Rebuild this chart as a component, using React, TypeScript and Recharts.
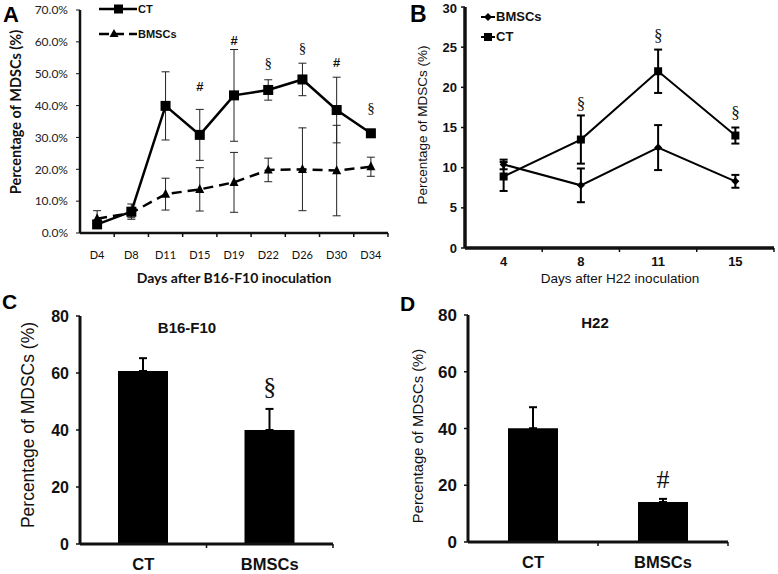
import React from 'react';
import { ComposedChart, Line, Bar, XAxis, YAxis, ErrorBar, Legend } from 'recharts';

const LATO = 'Lato, "Open Sans", sans-serif';
const ARIAL = '"Liberation Sans", Arial, sans-serif';
const SERIF = '"Liberation Serif", serif';
const INK = '#111';

// A: MDSCs after B16-F10 inoculation
const daysA = ['D4', 'D8', 'D11', 'D15', 'D19', 'D22', 'D26', 'D30', 'D34'];
const ctA = [2.7, 6.7, 39.9, 30.8, 43.2, 44.9, 48.2, 38.6, 31.3];
const ctErrA = [1.0, 2.4, 10.7, 8.0, 14.4, 3.2, 5.1, 10.3, 0.8];
const bmscA = [4.5, 6.3, 12.2, 13.7, 15.9, 19.8, 20.0, 19.6, 20.8];
const bmscErrA = [2.5, 1.5, 5.0, 6.8, 9.4, 3.7, 13.0, 14.2, 3.0];
const sigA = ['', '', '', '#', '#', '§', '§', '#', '§'];
const sigPosA = [null, null, null, 46.0, 60.4, 53.3, 58.0, 53.5, 39.1];
const ticksA = [0, 10, 20, 30, 40, 50, 60, 70];

// B: MDSCs after H22 inoculation
const daysB = ['4', '8', '11', '15'];
const bmscB = [10.4, 7.8, 12.5, 8.3];
const bmscErrB = [0.6, 2.1, 2.8, 0.8];
const ctB = [8.9, 13.5, 22.0, 14.0];
const ctErrB = [1.8, 3.0, 2.7, 1.0];
const sigB = ['', '§', '§', '§'];
const sigPosB = [null, 18.0, 26.5, 16.9];
const ticksB = [0, 5, 10, 15, 20, 25, 30];

// C / D: group comparison
const groups = ['CT', 'BMSCs'];
const b16 = [60.7, 40.0];
const b16Err = [4.5, 7.4];
const sigC = ['', '§'];
const sigPosC = [null, 55.1];
const h22 = [40.1, 14.1];
const h22Err = [7.4, 1.1];
const sigD = ['', '#'];
const sigPosD = [null, 21.9];
const ticksCD = [0, 20, 40, 60, 80];

const dataA = daysA.map((d, i) => ({
  day: d, ct: ctA[i], ctErr: ctErrA[i], bmsc: bmscA[i], bmscErr: bmscErrA[i], sig: sigA[i], sigPos: sigPosA[i],
}));
const dataB = daysB.map((d, i) => ({
  day: d, ct: ctB[i], ctErr: ctErrB[i], bmsc: bmscB[i], bmscErr: bmscErrB[i], sig: sigB[i], sigPos: sigPosB[i],
}));
const dataC = groups.map((g, i) => ({ group: g, v: b16[i], err: [0, b16Err[i]], sig: sigC[i], sigPos: sigPosC[i] }));
const dataD = groups.map((g, i) => ({ group: g, v: h22[i], err: [0, h22Err[i]], sig: sigD[i], sigPos: sigPosD[i] }));

// markers
const squareDot = (s: number) => (p: any) =>
  p.cy == null ? <g key={p.key} /> : <rect key={p.key} x={p.cx - s / 2} y={p.cy - s / 2} width={s} height={s} fill="#000" />;
const triDot = (s: number) => (p: any) =>
  p.cy == null ? <g key={p.key} /> : (
    <polygon key={p.key} fill="#000"
      points={`${p.cx},${p.cy - s * 0.6} ${p.cx - s / 2},${p.cy + s * 0.4} ${p.cx + s / 2},${p.cy + s * 0.4}`} />
  );
const diamondDot = (s: number) => (p: any) =>
  p.cy == null ? <g key={p.key} /> : (
    <polygon key={p.key} fill="#000"
      points={`${p.cx},${p.cy - s / 2} ${p.cx + s / 2},${p.cy} ${p.cx},${p.cy + s / 2} ${p.cx - s / 2},${p.cy}`} />
  );

// significance marks; fonts can differ per symbol
type SymFont = { size: number; family: string; weight?: string | number };
const sigDot = (fonts: Record<string, SymFont>) => (p: any) => {
  const s = p.payload?.sig;
  if (p.cy == null || !s) return <g key={p.key} />;
  const f = fonts[s];
  return (
    <text key={p.key} x={p.cx} y={p.cy} textAnchor="middle" dominantBaseline="central"
      fontSize={f.size} fontFamily={f.family} fontWeight={f.weight ?? 'normal'} fill={INK}>{s}</text>
  );
};

// category tick: label at band centre, small mark at band boundary
function bandTick(half: number, dy: number, font: any) {
  return (props: any) => {
    const { x, y, payload } = props;
    return (
      <g>
        <line x1={x + half} x2={x + half} y1={y} y2={y + 4} stroke={INK} strokeWidth={1.5} />
        <text x={x} y={y + dy} textAnchor="middle" dominantBaseline="central" fill={INK} {...font}>{payload.value}</text>
      </g>
    );
  };
}

function vTitle(x: number, y: number, size: number, weight: string | number, family: string, title?: any) {
  return () => (
    <g>
      <text x={x} y={y} transform={`rotate(-90 ${x} ${y})`} textAnchor="middle" dominantBaseline="central"
        fontSize={size} fontWeight={weight} fontFamily={family} fill={INK}>Percentage of MDSCs (%)</text>
      {title}
    </g>
  );
}

function hTitle(text: string, x: number, y: number, size: number, weight: string | number, family: string) {
  return () => (
    <text x={x} y={y} textAnchor="middle" dominantBaseline="central" fontSize={size} fontWeight={weight}
      fontFamily={family} fill={INK}>{text}</text>
  );
}

const iconsA: Record<string, any> = {
  CT: (
    <svg width={38} height={12}>
      <line x1={0} x2={38} y1={6} y2={6} stroke="#000" strokeWidth={2.5} />
      <rect x={15} y={1.5} width={9} height={9} fill="#000" />
    </svg>
  ),
  BMSCs: (
    <svg width={38} height={12}>
      <line x1={0} x2={38} y1={6} y2={6} stroke="#000" strokeWidth={2.5} strokeDasharray="10 5" />
      <polygon points="15,1 10.5,9 19.5,9" fill="#000" />
    </svg>
  ),
};
const iconsB: Record<string, any> = {
  BMSCs: (
    <svg width={14} height={10}>
      <line x1={0} x2={14} y1={5} y2={5} stroke="#000" strokeWidth={2} />
      <polygon points="7,1 11,5 7,9 3,5" fill="#000" />
    </svg>
  ),
  CT: (
    <svg width={14} height={10}>
      <line x1={0} x2={14} y1={5} y2={5} stroke="#000" strokeWidth={2} />
      <rect x={3} y={1} width={8} height={8} fill="#000" />
    </svg>
  ),
};

function legendContent(icons: Record<string, any>, order: string[], gap: number, font: any) {
  return (props: any) => {
    const names = (props.payload || []).filter((p: any) => p.type !== 'none').map((p: any) => p.value);
    const items = order.filter((n) => names.includes(n));
    return (
      <div>
        {items.map((n, i) => (
          <div key={n} style={{ display: 'flex', alignItems: 'center', height: 14, marginTop: i ? gap : 0 }}>
            {icons[n]}
            <span style={{ marginLeft: 1, color: INK, lineHeight: '14px', ...font }}>{n}</span>
          </div>
        ))}
      </div>
    );
  };
}

function PanelA() {
  return (
    <ComposedChart width={390} height={290} data={dataA} margin={{ top: 10, right: 2, left: 0, bottom: 0 }}>
      <XAxis dataKey="day" scale="band" height={57} tickSize={0} tickMargin={0} interval={0}
        axisLine={{ stroke: INK, strokeWidth: 2.5 }} tickLine={false}
        tick={bandTick(17.1, 21, { fontSize: 11, fontFamily: LATO })}
        label={hTitle('Days after B16-F10 inoculation', 234, 277, 14, 700, LATO)} />
      <YAxis width={80} domain={[0, 70]} ticks={ticksA} tickFormatter={(v: number) => `${v.toFixed(1)}%`}
        axisLine={{ stroke: INK, strokeWidth: 2.5 }} tickLine={{ stroke: INK }} tickSize={4} tickMargin={8}
        tick={{ fontSize: 12, fill: '#222', fontFamily: LATO }}
        label={vTitle(15, 112, 14.5, 700, LATO)} />
      <Legend layout="horizontal" verticalAlign="middle" align="center" wrapperStyle={{ left: 99, top: 2 }}
        content={legendContent(iconsA, ['CT', 'BMSCs'], 11, { fontSize: 11, fontWeight: 700, fontFamily: ARIAL })} />
      <Line dataKey="bmsc" name="BMSCs" stroke="#000" strokeWidth={2.5} strokeDasharray="10 6"
        dot={triDot(9)} activeDot={false} isAnimationActive={false}>
        <ErrorBar dataKey="bmscErr" direction="y" width={4} stroke="#222" strokeWidth={1} />
      </Line>
      <Line dataKey="ct" name="CT" stroke="#000" strokeWidth={2.5}
        dot={squareDot(10)} activeDot={false} isAnimationActive={false}>
        <ErrorBar dataKey="ctErr" direction="y" width={4} stroke="#222" strokeWidth={1} />
      </Line>
      <Line dataKey="sigPos" stroke="none" legendType="none" activeDot={false} isAnimationActive={false}
        dot={sigDot({ '#': { size: 13, family: ARIAL, weight: 700 }, '§': { size: 15, family: SERIF } })} />
    </ComposedChart>
  );
}

function PanelB() {
  return (
    <ComposedChart width={388} height={290} data={dataB} margin={{ top: 7, right: 4, left: 0, bottom: 0 }}>
      <XAxis dataKey="day" scale="band" height={42} tickSize={0} tickMargin={0} interval={0}
        axisLine={{ stroke: INK, strokeWidth: 3.5 }} tickLine={false}
        tick={bandTick(38.6, 13, { fontSize: 13, fontWeight: 700, fontFamily: ARIAL })}
        label={hTitle('Days after H22 inoculation', 230, 278, 13.5, 400, ARIAL)} />
      <YAxis width={75} domain={[0, 30]} ticks={ticksB}
        axisLine={{ stroke: INK, strokeWidth: 3.5 }} tickLine={{ stroke: INK, strokeWidth: 1.5 }} tickSize={4} tickMargin={4}
        tick={{ fontSize: 13, fontWeight: 700, fill: INK, fontFamily: ARIAL }}
        label={vTitle(32, 125, 13.5, 400, ARIAL)} />
      <Legend layout="horizontal" verticalAlign="middle" align="center" wrapperStyle={{ left: 91, top: 10 }}
        content={legendContent(iconsB, ['BMSCs', 'CT'], 6, { fontSize: 13, fontWeight: 700, fontFamily: ARIAL })} />
      <Line dataKey="bmsc" name="BMSCs" stroke="#000" strokeWidth={2}
        dot={diamondDot(8)} activeDot={false} isAnimationActive={false}>
        <ErrorBar dataKey="bmscErr" direction="y" width={4} stroke="#000" strokeWidth={2} />
      </Line>
      <Line dataKey="ct" name="CT" stroke="#000" strokeWidth={2}
        dot={squareDot(8)} activeDot={false} isAnimationActive={false}>
        <ErrorBar dataKey="ctErr" direction="y" width={4} stroke="#000" strokeWidth={2} />
      </Line>
      <Line dataKey="sigPos" stroke="none" legendType="none" activeDot={false} isAnimationActive={false}
        dot={sigDot({ '§': { size: 17, family: SERIF } })} />
    </ComposedChart>
  );
}

function BarPanel(props: { data: any[]; width: number; left: number; right: number; top: number; xh: number;
  half: number; yFont: number; label: any }) {
  const { data, width, left, right, top, xh, half, yFont, label } = props;
  return (
    <ComposedChart width={width} height={284} data={data} margin={{ top, right, left: 0, bottom: 0 }}>
      <XAxis dataKey="group" scale="band" height={xh} tickSize={0} tickMargin={0} interval={0}
        axisLine={{ stroke: INK, strokeWidth: 3 }} tickLine={false}
        tick={bandTick(half, 20, { fontSize: 16.5, fontWeight: 700, fontFamily: ARIAL })} />
      <YAxis width={left} domain={[0, 80]} ticks={ticksCD}
        axisLine={{ stroke: INK, strokeWidth: 3 }} tickLine={{ stroke: INK, strokeWidth: 1.5 }} tickSize={4} tickMargin={7}
        tick={{ fontSize: yFont, fontWeight: 700, fill: INK, fontFamily: ARIAL }}
        label={label} />
      <Bar dataKey="v" fill="#000" barSize={50} isAnimationActive={false}>
        <ErrorBar dataKey="err" direction="y" width={4} stroke="#000" strokeWidth={2} />
      </Bar>
      <Line dataKey="sigPos" stroke="none" legendType="none" activeDot={false} isAnimationActive={false}
        dot={sigDot({ '§': { size: 26, family: SERIF }, '#': { size: 26, family: SERIF } })} />
    </ComposedChart>
  );
}

const letter = (t: string, left: number, top: number, size: number) => (
  <div style={{ position: 'absolute', left, top, fontSize: size, lineHeight: 1.2, fontWeight: 700, fontFamily: ARIAL, color: '#000' }}>{t}</div>
);

export default function App() {
  return (
    <div style={{ position: 'absolute', left: 0, top: 0, width: 778, height: 574, background: '#fff', overflow: 'hidden' }}>
      <div style={{ position: 'absolute', left: 0, top: 0 }}><PanelA /></div>
      <div style={{ position: 'absolute', left: 390, top: 0 }}><PanelB /></div>
      <div style={{ position: 'absolute', left: 0, top: 290 }}>
        <BarPanel data={dataC} width={390} left={80} right={57} top={26} xh={30} half={63.25} yFont={16}
          label={vTitle(28, 135, 17.5, 400, ARIAL,
            <text x={187} y={37} textAnchor="middle" dominantBaseline="central" fontSize={15} fontWeight={700} fontFamily={ARIAL} fill={INK}>B16-F10</text>)} />
      </div>
      <div style={{ position: 'absolute', left: 390, top: 290 }}>
        <BarPanel data={dataD} width={388} left={78} right={50} top={25} xh={32} half={65} yFont={17}
          label={vTitle(28, 146, 14.8, 400, ARIAL,
            <text x={205} y={32} textAnchor="middle" dominantBaseline="central" fontSize={15} fontWeight={700} fontFamily={ARIAL} fill={INK}>H22</text>)} />
      </div>
      {letter('A', 3, 2, 22)}
      {letter('B', 410, 1, 23)}
      {letter('C', 2, 289, 21)}
      {letter('D', 400, 291, 21)}
    </div>
  );
}
